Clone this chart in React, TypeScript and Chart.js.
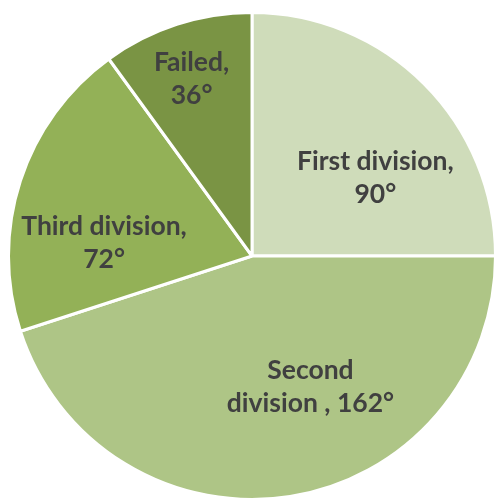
import React, { useEffect, useRef } from "react";
import { Chart, registerables } from "chart.js";

Chart.register(...registerables);

const categories = ["First division", "Second division", "Third division", "Failed"];
const values = [90, 162, 72, 36];
const colors = ["#CFDCBA", "#AEC586", "#93B157", "#7A9444"];
// Label lines as shown in the reference (value appended with a degree sign)
const labelLines = [
  [`${categories[0]},`, `${values[0]}°`],
  ["Second", `division , ${values[1]}°`],
  [`${categories[2]},`, `${values[2]}°`],
  [`${categories[3]},`, `${values[3]}°`],
];
// placement: angle shift (degrees) from slice mid-angle, and fraction of radius
const labelAngleShift = [12.6, -15, -13, -0.8];
const labelRadiusFrac = [0.6, 0.59, 0.61, 0.77];

const labelPlugin = {
  id: "sliceLabels",
  afterDatasetsDraw(chart: any) {
    const { ctx } = chart;
    const meta = chart.getDatasetMeta(0);
    ctx.save();
    ctx.font = "bold 26.5px Lato, 'Open Sans', sans-serif";
    ctx.fillStyle = "#404040";
    ctx.textAlign = "center";
    ctx.textBaseline = "middle";
    meta.data.forEach((arc: any, i: number) => {
      const p = arc.getProps(["x", "y", "startAngle", "endAngle", "outerRadius"], true);
      const mid = (p.startAngle + p.endAngle) / 2 + (labelAngleShift[i] * Math.PI) / 180;
      const d = p.outerRadius * labelRadiusFrac[i];
      const cx = p.x + Math.cos(mid) * d;
      const cy = p.y + Math.sin(mid) * d;
      const lines = labelLines[i];
      const lh = 33;
      lines.forEach((t: string, j: number) => {
        ctx.fillText(t, cx, cy + (j - (lines.length - 1) / 2) * lh);
      });
    });
    ctx.restore();
  },
};

export default function App() {
  const ref = useRef<HTMLCanvasElement>(null);
  useEffect(() => {
    if (!ref.current) return;
    const chart = new Chart(ref.current, {
      type: "pie",
      data: {
        labels: categories,
        datasets: [
          {
            data: values,
            backgroundColor: colors,
            borderColor: "#FFFFFF",
            borderWidth: 3,
          },
        ],
      },
      options: {
        animation: false,
        responsive: false,
        layout: { padding: { left: 7, right: 3, top: 11, bottom: 5 } },
        plugins: {
          legend: { display: false },
          tooltip: { enabled: false },
        },
      },
      plugins: [labelPlugin],
    });
    return () => chart.destroy();
  }, []);
  return (
    <div style={{ position: "absolute", left: 0, top: 0, width: 494, height: 500, overflow: "hidden", background: "#fff" }}>
      <canvas ref={ref} width={500} height={506} style={{ width: 500, height: 506 }} />
    </div>
  );
}
